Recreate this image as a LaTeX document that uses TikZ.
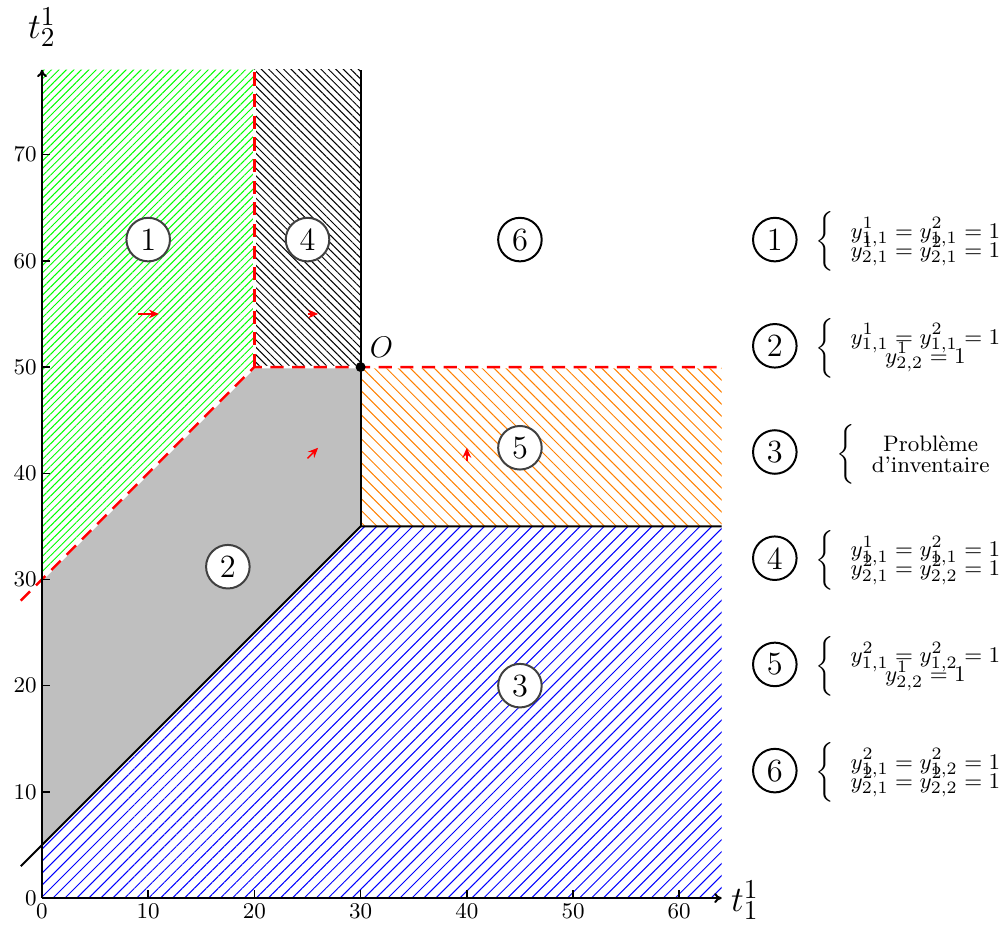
\documentclass[tikz,border=0pt]{standalone}
\usetikzlibrary{patterns.meta,arrows.meta}
\newcommand{\legsys}[3]{$\delimiterfactor=1000\delimitershortfall=0pt\left\{\vrule height 8.9pt depth 8.9pt width 0pt\right.\kern4pt\vcenter{\baselineskip=#1\lineskiplimit=-100pt\lineskip=0pt\halign{\hfil##\hfil\cr#2\cr#3\cr}}$}
\begin{document}
\begin{tikzpicture}[x=0.15cm,y=0.15cm,
  region/.style={circle,draw=black!75,fill=white,line width=0.8pt,minimum size=17.5pt,inner sep=0pt,font=\fontsize{13}{15}\selectfont},
  legcirc/.style={region,draw=black,fill=none},
  redline/.style={red,line width=1pt,dash pattern=on 5.3pt off 3.4pt},
  whiteline/.style={white,line width=1pt},
  bound/.style={line width=0.8pt},
  vec/.style={red,line width=0.6pt,-{Stealth[length=4pt,width=3.5pt]}},
  tick/.style={line width=0.6pt},
  ticklab/.style={font=\small,inner sep=2pt},
  legend/.style={font=\fontsize{9.3}{11}\selectfont,inner sep=0pt},
  legtext/.style={font=\small,inner sep=0pt},
  axlab/.style={font=\fontsize{15}{17}\selectfont,inner sep=1pt}
]
\useasboundingbox (-3.955,-2.73) rectangle (90.58,84.56);
% corners
\coordinate (P0) at (0,0);
\coordinate (P5) at (0,5);
\coordinate (P30) at (0,30);
\coordinate (PT) at (0,78);
\coordinate (B) at (20,50);
\coordinate (BT) at (20,78);
\coordinate (O) at (30,50);
\coordinate (C) at (30,35);
\coordinate (CT) at (30,78);
\coordinate (R0) at (64,0);
\coordinate (R35) at (64,35);
\coordinate (R50) at (64,50);
\coordinate (Lb) at (-2,3);
\coordinate (Lr) at (-2,28);
% regions
\fill[gray!50] (P5) -- (C) -- (O) -- (B) -- (P30) -- cycle;
\pattern[pattern={Lines[angle=45,distance=2.12pt,line width=0.4pt]},pattern color=green] (P30) -- (B) -- (BT) -- (PT) -- cycle;
\pattern[pattern={Lines[angle=-45,distance=2.12pt,line width=0.4pt]},pattern color=black] (B) -- (O) -- (CT) -- (BT) -- cycle;
\pattern[pattern={Lines[angle=-45,distance=3.4pt,line width=0.4pt]},pattern color=orange] (C) -- (R35) -- (R50) -- (O) -- cycle;
\pattern[pattern={Lines[angle=45,distance=3.4pt,line width=0.4pt]},pattern color=blue] (P0) -- (R0) -- (R35) -- (C) -- (P5) -- cycle;
% red dashed boundaries
\draw[whiteline] (Lr) -- (B) -- (R50);
\draw[whiteline] (B) -- (BT);
\draw[redline] (Lr) -- (B) -- (R50);
\draw[redline] (B) -- (BT);
% black boundaries
\draw[bound] (Lb) -- (C) -- (R35);
\draw[bound] (C) -- (CT);
% axes
\draw[bound,-{To[length=3pt,width=4pt]}] (P0) -- (R0);
\draw[bound,-{To[length=3pt,width=4pt]}] (P0) -- (PT);
\foreach \x in {10,20,30,40,50,60} {
  \draw[tick] (\x,0) -- (\x,0.75);
  \node[ticklab,below] (xl\x) at (\x,0) {\x};
}
\node[ticklab,below] (xl0) at (0,0) {0};
\foreach \y in {10,20,30,40,50,60,70} {
  \draw[tick] (0,\y) -- (0.75,\y);
  \node[ticklab,left] (yl\y) at (0,\y) {\y};
}
\node[ticklab,left] (yl0) at (0,0) {0};
\node[axlab,anchor=west] (tx) at (64.6,-0.2) {$t^1_1$};
\node[axlab] (ty) at (0,82) {$t^1_2$};
% point O
\fill (O) circle (2pt);
\node[font=\fontsize{12.5}{14}\selectfont,anchor=south west,inner sep=1pt] (Olab) at (30.6,50.6) {$O$};
% vectors
\draw[vec] (9,55) -- (11,55);
\draw[vec] (25,55) -- (26,55);
\draw[vec] (25,41.4) -- (26,42.4);
\draw[vec] (40,41.2) -- (40,42.4);
% region labels
\node[region] (r1) at (10,62) {1};
\node[region] (r4) at (25,62) {4};
\node[region,draw=black,fill=none] (r6) at (45,62) {6};
\node[region] (r5) at (45,42.4) {5};
\node[region] (r2) at (17.5,31.2) {2};
\node[region] (r3) at (45,20) {3};
% legend
\node[legcirc] (l1) at (69,62) {1};
\node[legcirc] (l2) at (69,52) {2};
\node[legcirc] (l3) at (69,42) {3};
\node[legcirc] (l4) at (69,32) {4};
\node[legcirc] (l5) at (69,22) {5};
\node[legcirc] (l6) at (69,12) {6};
\node[legend] (e1) at (81.5,61.8) {\legsys{7.6pt}{$y^1_{1,1}=y^2_{1,1}=1$}{$y^1_{2,1}=y^2_{2,1}=1$}};
\node[legend] (e2) at (81.5,51.8) {\legsys{7.6pt}{$y^1_{1,1}=y^2_{1,1}=1$}{$y^1_{2,2}=1$}};
\node[legtext] (e3) at (82,41.8) {\legsys{8.7pt}{Probl\`eme}{d'inventaire}};
\node[legend] (e4) at (81.5,31.8) {\legsys{7.6pt}{$y^1_{1,1}=y^2_{1,1}=1$}{$y^2_{2,1}=y^2_{2,2}=1$}};
\node[legend] (e5) at (81.5,21.8) {\legsys{7.6pt}{$y^2_{1,1}=y^2_{1,2}=1$}{$y^1_{2,2}=1$}};
\node[legend] (e6) at (81.5,11.8) {\legsys{7.6pt}{$y^2_{1,1}=y^2_{1,2}=1$}{$y^2_{2,1}=y^2_{2,2}=1$}};
\end{tikzpicture}
\end{document}
